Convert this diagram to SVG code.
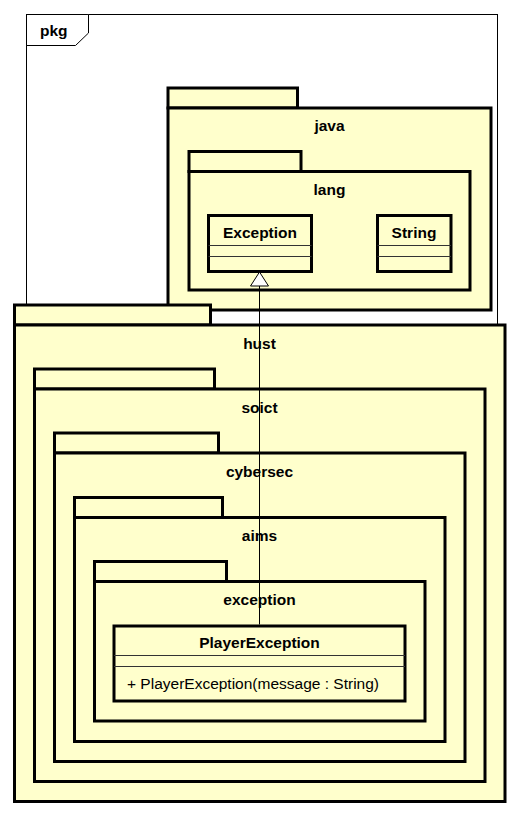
<svg xmlns="http://www.w3.org/2000/svg" width="518" height="814" viewBox="0 0 518 814">
<style>
.pk{fill:#FFFFCC;stroke:#000;stroke-width:3}
.cl{fill:#FFFFCC;stroke:#000;stroke-width:3}
.sep{stroke:#333;stroke-width:1;fill:none}
.lb{font-family:"Liberation Sans",Arial,sans-serif;font-weight:bold;font-size:15.5px;fill:#000;text-anchor:middle}
.op{font-family:"Liberation Sans",Arial,sans-serif;font-size:15.5px;fill:#000}
.frame{fill:#fff;stroke:#000;stroke-width:1}
.edge{stroke:#000;stroke-width:1;fill:none}
</style>
<rect width="518" height="814" fill="#fff"/>
<g id="frame-pkg">
<rect class="frame" x="26.5" y="14.5" width="471" height="780"/>
<path class="frame" d="M26.5,45.5 L75.5,45.5 L88.5,33 L88.5,14.5"/>
<text x="40" y="36" class="lb" style="text-anchor:start">pkg</text>
</g>
<g id="pkg-java">
<rect class="pk" x="168" y="88" width="129.5" height="20"/>
<rect class="pk" x="168" y="108" width="323" height="202"/>
<text x="329.5" y="131" class="lb">java</text>
</g>
<g id="pkg-lang">
<rect class="pk" x="189" y="151.5" width="112" height="20"/>
<rect class="pk" x="189" y="171.5" width="281" height="118.5"/>
<text x="329.5" y="195" class="lb">lang</text>
</g>
<g id="class-Exception">
<rect class="cl" x="208.5" y="215.5" width="103" height="56"/>
<line class="sep" x1="208.5" y1="245.5" x2="311.5" y2="245.5"/>
<line class="sep" x1="208.5" y1="256.5" x2="311.5" y2="256.5"/>
<text x="260" y="238" class="lb">Exception</text>
</g>
<g id="class-String">
<rect class="cl" x="377.5" y="215.5" width="73.5" height="56"/>
<line class="sep" x1="377.5" y1="245.5" x2="451" y2="245.5"/>
<line class="sep" x1="377.5" y1="256.5" x2="451" y2="256.5"/>
<text x="414" y="238" class="lb">String</text>
</g>
<g id="pkg-hust">
<rect class="pk" x="14.5" y="305" width="196" height="20"/>
<rect class="pk" x="14.5" y="325" width="490.5" height="476.5"/>
<text x="259.5" y="349" class="lb">hust</text>
</g>
<g id="pkg-soict">
<rect class="pk" x="34.5" y="369" width="180" height="20"/>
<rect class="pk" x="34.5" y="389" width="450.5" height="392.5"/>
<text x="259.5" y="413" class="lb">soict</text>
</g>
<g id="pkg-cybersec">
<rect class="pk" x="54.5" y="433" width="164" height="20"/>
<rect class="pk" x="54.5" y="453" width="410.5" height="308.5"/>
<text x="259.5" y="477" class="lb">cybersec</text>
</g>
<g id="pkg-aims">
<rect class="pk" x="74.5" y="497.5" width="148" height="20"/>
<rect class="pk" x="74.5" y="517.5" width="370.5" height="224"/>
<text x="259.5" y="541" class="lb">aims</text>
</g>
<g id="pkg-exception">
<rect class="pk" x="94.5" y="561.5" width="132" height="20"/>
<rect class="pk" x="94.5" y="581.5" width="330.5" height="139.5"/>
<text x="259.5" y="605" class="lb">exception</text>
</g>
<g id="class-PlayerException">
<rect class="cl" x="114" y="626" width="291" height="75"/>
<line class="sep" x1="114" y1="655.5" x2="405" y2="655.5"/>
<line class="sep" x1="114" y1="666.5" x2="405" y2="666.5"/>
<text x="259.5" y="648" class="lb">PlayerException</text>
<text x="127" y="689" class="op">+ PlayerException(message : String)</text>
</g>
<g id="connectors">
<line class="edge" x1="259.5" y1="286" x2="259.5" y2="624.5"/>
<polygon points="259.5,272 250.5,286 268.5,286" fill="#fff" stroke="#000" stroke-width="1"/>
</g>
</svg>
